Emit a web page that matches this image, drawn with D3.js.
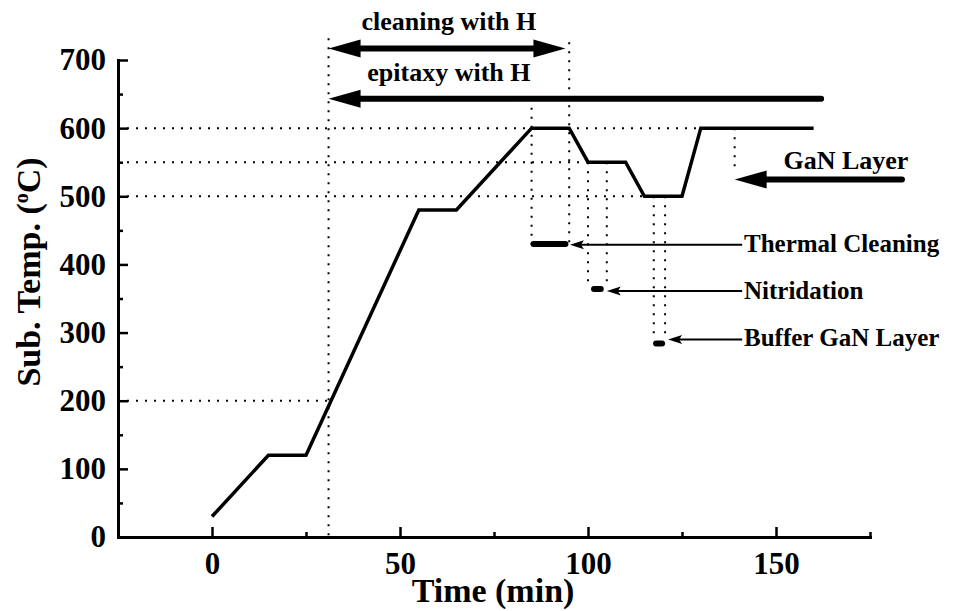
<!DOCTYPE html>
<html>
<head>
<meta charset="utf-8">
<script src="https://cdn.jsdelivr.net/npm/d3@7/dist/d3.min.js"></script>
<style>
  html, body { margin: 0; padding: 0; background: #fff; }
  svg text { font-family: "Liberation Serif", "Times New Roman", serif; font-weight: bold; fill: #000; }
</style>
</head>
<body>
<svg id="chart" width="953" height="611"></svg>
<script>
// Substrate temperature profile (time in min, temperature in °C)
const timeMin = [0, 15, 25, 55, 65, 85, 95, 100, 110, 115, 125, 130, 160];
const tempC   = [30, 120, 120, 480, 480, 600, 600, 550, 550, 500, 500, 600, 600];

const xMajorTicks = [0, 50, 100, 150];
const xMinorTicks = [-25, 25, 75, 125, 175];
const yMajorTicks = [0, 100, 200, 300, 400, 500, 600, 700];
const yMinorTicks = [50, 150, 250, 350, 450, 550, 650];

// Dotted guide lines: horizontal [temp, fromTime, toTime], vertical [time, fromTemp, toTemp]
const hGuides = [[600, -25, 130], [550, -25, 100], [500, -25, 115], [200, -25, 31]];
const vGuides = [[31, 732, 0], [95, 726, 430], [85, 643, 430], [100, 550, 368], [105, 550, 368],
                 [117.5, 500, 290], [120.5, 500, 290], [139, 600, 536]];

// Process step markers: [fromTime, toTime, temp]
const stepBars = [[85.5, 94, 430], [101.6, 103.4, 364], [118.1, 119.7, 284]];
const stepLabels = ["Thermal Cleaning", "Nitridation", "Buffer GaN Layer"];
// Pointer lines from the labels: [tipTime, tailTime, temp]
const stepPointers = [[95.2, 141, 429], [105, 141, 361], [121.3, 141, 290]];
const stepLabelTemps = [418, 350, 280];

// Bold arrows: [tipTime, tailTime, temp, doubleHeaded]
const bigArrows = [[31, 94, 717, true], [31, 162, 643, false], [139, 183.5, 524.5, false]];
const bigArrowLabels = [["cleaning with H", 63, 744], ["epitaxy with H", 63, 669], ["GaN Layer", 168.6, 540]];

const svg = d3.select("#chart");
const x = d3.scaleLinear().domain([-25, 175]).range([118, 870]);
const y = d3.scaleLinear().domain([0, 700]).range([537, 60]);

// guides
const guides = svg.append("g")
  .attr("stroke", "#000").attr("stroke-width", 2).attr("stroke-dasharray", "2,7").attr("fill", "none");
guides.selectAll("line.h").data(hGuides).join("line").attr("class", "h")
  .attr("x1", d => x(d[1])).attr("x2", d => x(d[2]))
  .attr("y1", d => y(d[0])).attr("y2", d => y(d[0]));
guides.selectAll("line.v").data(vGuides).join("line").attr("class", "v")
  .attr("x1", d => x(d[0])).attr("x2", d => x(d[0]))
  .attr("y1", d => y(d[1])).attr("y2", d => y(d[2]));

// axes
const axisStyle = g => {
  g.select(".domain").attr("stroke-width", 3).attr("stroke-linecap", "square");
  g.selectAll(".tick line").attr("stroke-width", 2.5);
  g.selectAll("text").attr("font-family", "Liberation Serif, Times New Roman, serif")
    .attr("font-weight", "bold").attr("font-size", 31).attr("fill", "#000");
};
svg.append("g").attr("transform", `translate(0,${y(0)})`)
  .call(d3.axisBottom(x).tickValues(xMinorTicks).tickSize(-5).tickSizeOuter(0).tickFormat(""))
  .call(g => { g.select(".domain").remove(); g.selectAll(".tick line").attr("stroke-width", 2.5); });
svg.append("g").attr("transform", `translate(${x(-25)},0)`)
  .call(d3.axisLeft(y).tickValues(yMinorTicks).tickSize(-5).tickSizeOuter(0).tickFormat(""))
  .call(g => { g.select(".domain").remove(); g.selectAll(".tick line").attr("stroke-width", 2.5); });
svg.append("g").attr("transform", `translate(0,${y(0)})`)
  .call(d3.axisBottom(x).tickValues(xMajorTicks).tickSize(-10).tickSizeOuter(0).tickPadding(15).tickFormat(d3.format("d")))
  .call(axisStyle);
svg.append("g").attr("transform", `translate(${x(-25)},0)`)
  .call(d3.axisLeft(y).tickValues(yMajorTicks).tickSize(-10).tickSizeOuter(0).tickPadding(12).tickFormat(d3.format("d")))
  .call(axisStyle);

// axis titles
svg.append("text").attr("x", 493).attr("y", 602).attr("text-anchor", "middle")
  .attr("font-size", 34).text("Time (min)");
const yt = svg.append("text").attr("transform", "translate(40,272) rotate(-90)")
  .attr("text-anchor", "middle").attr("font-size", 34);
yt.append("tspan").text("Sub. Temp. (");
yt.append("tspan").attr("font-size", 20).attr("dy", -12).text("o");
yt.append("tspan").attr("dy", 12).text("C)");

// temperature profile
const line = d3.line().x((d, i) => x(timeMin[i])).y(d => y(d));
svg.append("path").datum(tempC).attr("d", line)
  .attr("fill", "none").attr("stroke", "#000").attr("stroke-width", 3.5).attr("stroke-linejoin", "miter");

// step markers
svg.append("g").selectAll("line").data(stepBars).join("line")
  .attr("x1", d => x(d[0])).attr("x2", d => x(d[1]))
  .attr("y1", d => y(d[2])).attr("y2", d => y(d[2]))
  .attr("stroke", "#000").attr("stroke-width", 6).attr("stroke-linecap", "round");

// thin pointers with small heads
const ptr = svg.append("g");
stepPointers.forEach(([tip, tail, temp]) => {
  const xt = x(tip), xe = x(tail), yy = y(temp);
  ptr.append("line").attr("x1", xt + 10).attr("x2", xe).attr("y1", yy).attr("y2", yy)
    .attr("stroke", "#000").attr("stroke-width", 2);
  ptr.append("path").attr("d", `M${xt},${yy}L${xt + 14},${yy - 4.5}L${xt + 11},${yy}L${xt + 14},${yy + 4.5}Z`)
    .attr("fill", "#000");
});
svg.append("g").selectAll("text").data(stepLabels).join("text")
  .attr("x", 744).attr("y", (d, i) => y(stepLabelTemps[i]))
  .attr("font-size", 25).text(d => d);

// bold arrows
const heads = (xt, yy, dir) => `M${xt},${yy}L${xt + dir * 32},${yy - 9}L${xt + dir * 32},${yy + 9}Z`;
const ba = svg.append("g");
bigArrows.forEach(([tip, tail, temp, both]) => {
  const xt = x(tip), xe = x(tail), yy = y(temp);
  ba.append("line").attr("x1", xt + 20).attr("x2", both ? xe - 20 : xe).attr("y1", yy).attr("y2", yy)
    .attr("stroke", "#000").attr("stroke-width", 6).attr("stroke-linecap", both ? "butt" : "round");
  ba.append("path").attr("d", heads(xt, yy, 1)).attr("fill", "#000");
  if (both) ba.append("path").attr("d", heads(xe, yy, -1)).attr("fill", "#000");
});
svg.append("g").selectAll("text").data(bigArrowLabels).join("text")
  .attr("x", d => x(d[1])).attr("y", d => y(d[2]))
  .attr("text-anchor", "middle").attr("font-size", 26).text(d => d[0]);
</script>
</body>
</html>
